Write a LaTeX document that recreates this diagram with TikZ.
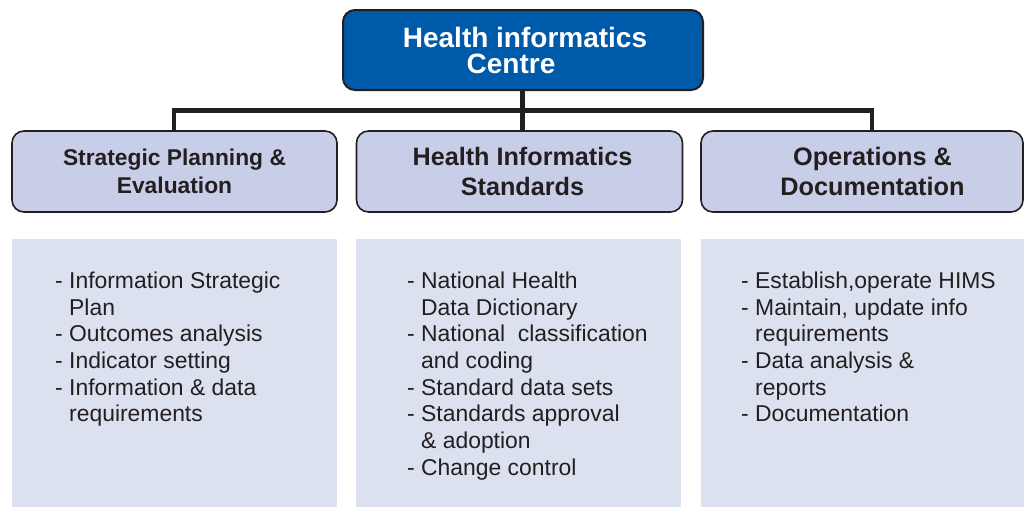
\documentclass[tikz,border=0pt]{standalone}
\usepackage{fontspec}
\setmainfont{Liberation Sans}
\definecolor{topblue}{HTML}{005AAA}
\definecolor{edge}{HTML}{231F20}
\definecolor{midfill}{HTML}{C8CEE8}
\definecolor{panelfill}{HTML}{DCE1F0}
\definecolor{ink}{HTML}{231F20}
\tikzset{
  topbox/.style={draw=edge, line width=2pt, fill=topblue, rounded corners=12pt,
    minimum width=360pt, minimum height=80pt, text=white, align=center,
    font=\fontsize{28}{26}\selectfont\bfseries, inner sep=0pt},
  unitbox/.style={draw=edge, line width=1.6pt, fill=midfill, rounded corners=12pt,
    minimum height=81pt, text=ink, align=center, inner sep=0pt},
  panel/.style={fill=panelfill, draw=none, inner sep=0pt, anchor=north west},
  items/.style={anchor=north west, inner sep=0pt, align=left, text=ink,
    font=\fontsize{22.9}{26.7}\selectfont},
  link/.style={draw=edge, line width=4.5pt}
}
\newcommand{\cont}{\hphantom{-~}}
\begin{document}
\begin{tikzpicture}[x=1pt,y=-1pt]
\useasboundingbox (0,0) rectangle (1024,507);
% panels
\node[panel, minimum width=325pt, minimum height=268pt] (p1) at (12,239) {};
\node[panel, minimum width=325pt, minimum height=268pt] (p2) at (356,239) {};
\node[panel, minimum width=323pt, minimum height=268pt] (p3) at (701,239) {};
% connectors
\coordinate (jl) at (174,110.5);
\coordinate (jm) at (522.5,110.5);
\coordinate (jr) at (872,110.5);
\node[topbox] (top) at (523,50) {\kern4pt Health informatics\\Centre\kern24pt};
\node[unitbox, minimum width=325pt, font=\fontsize{22.8}{28}\selectfont\bfseries] (u1) at (174.5,171.5) {Strategic Planning \&\\Evaluation};
\node[unitbox, minimum width=326pt, font=\fontsize{25.2}{30}\selectfont\bfseries] (u2) at (519.5,171.5) {\kern6pt Health Informatics\\\kern6pt Standards};
\node[unitbox, minimum width=322pt, font=\fontsize{25.3}{30}\selectfont\bfseries] (u3) at (862,171.5) {\kern21pt Operations \&\\\kern21pt Documentation};
\draw[link] (top.south -| jm) -- (jm);
\draw[link] ([xshift=-2.25pt]jl) -- ([xshift=2.25pt]jr);
\draw[link] (jl) -- (u1.north -| jl);
\draw[link] (jm) -- (u2.north -| jm);
\draw[link] (jr) -- (u3.north -| jr);
% items
\node[items] (t1) at (55,271.5) {- Information Strategic\\\cont Plan\\- Outcomes analysis\\- Indicator setting\\- Information \& data\\\cont requirements};
\node[items] (t2) at (407,271.5) {- National Health\\\cont Data Dictionary\\- National\ \ classification\\\cont and coding\\- Standard data sets\\- Standards approval\\\cont \& adoption\\- Change control};
\node[items] (t3) at (741,271.5) {- Establish,operate HIMS\\- Maintain, update info\\\cont requirements\\- Data analysis \&\\\cont reports\\- Documentation};
\end{tikzpicture}
\end{document}
